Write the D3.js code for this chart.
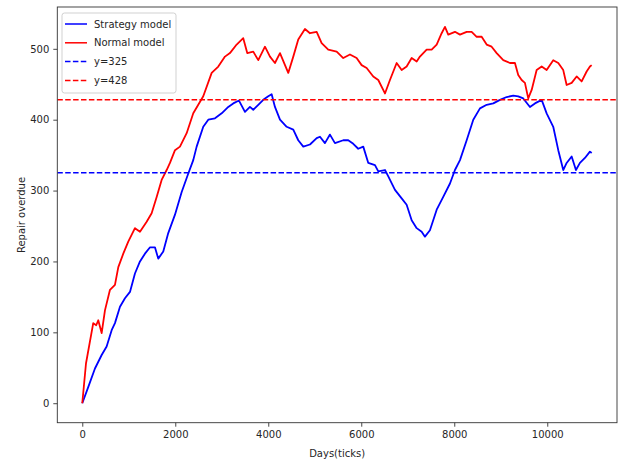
<!DOCTYPE html>
<html>
<head>
<meta charset="utf-8">
<script src="https://cdn.jsdelivr.net/npm/d3@7"></script>
<style>
  body { margin: 0; background: #fff; }
  svg text { font-family: "DejaVu Sans", sans-serif; fill: #262626; }
</style>
</head>
<body>
<svg id="chart" width="618" height="460"></svg>
<script>
// data (days, repair overdue)
var strategyDays = [0,130,273,417,524,632,703,811,918,1026,1133,1241,1348,1458,1563,1634,1742,1849,1994,2138,2280,2387,2460,2602,2710,2854,2998,3140,3247,3370,3499,3606,3677,3785,3892,4000,4073,4144,4252,4396,4538,4645,4753,4897,5041,5112,5219,5327,5434,5613,5720,5828,5935,6043,6151,6295,6366,6510,6581,6725,6869,6976,7084,7192,7299,7370,7477,7622,7763,7908,8015,8123,8267,8409,8553,8697,8839,8983,9127,9269,9376,9484,9628,9735,9880,9987,10129,10237,10344,10417,10525,10617,10703,10810,10918,10955];
var strategyValues = [0,23,49,68,80,103,113,136,148,157,183,200,211,220,220,204,214,240,266,298,324,343,362,390,400,402,409,418,423,427,411,418,414,421,428,433,436,418,400,390,386,371,362,365,374,376,367,379,367,371,371,366,359,362,339,336,327,329,320,301,289,280,258,247,242,235,244,273,291,310,329,343,371,400,416,421,423,428,432,434,433,430,418,423,428,409,390,357,329,339,348,329,339,346,355,353];

var normalDays = [0,80,236,300,344,417,488,596,703,775,882,989,1133,1241,1385,1492,1600,1707,1815,1886,1994,2101,2245,2387,2602,2783,2925,3069,3176,3320,3462,3548,3677,3785,3929,4037,4144,4252,4430,4538,4645,4789,4897,5041,5148,5290,5471,5613,5757,5900,6008,6116,6258,6366,6510,6617,6761,6869,6976,7084,7192,7262,7406,7514,7622,7729,7800,7871,8015,8123,8267,8374,8482,8589,8697,8804,8912,9054,9198,9305,9376,9449,9520,9591,9665,9772,9880,9987,10129,10237,10344,10417,10525,10632,10740,10847,10918,10955];
var normalValues = [0,56,113,110,117,99,131,160,167,192,211,228,247,242,256,268,291,315,329,339,357,362,381,409,433,466,475,489,494,506,515,494,496,484,503,489,480,494,466,489,513,528,522,524,508,499,496,487,492,487,477,473,461,456,437,456,480,470,475,487,482,489,499,499,506,522,531,520,524,520,524,524,517,517,506,503,494,484,480,480,463,456,452,430,442,470,475,470,484,480,470,449,452,461,454,468,475,477];

var seriesNames = ["Strategy model", "Normal model"];
var seriesColors = ["blue", "red"];
var refValues = [325, 428];
var refNames = ["y=325", "y=428"];
var refColors = ["blue", "red"];

var xTicks = [0, 2000, 4000, 6000, 8000, 10000];
var yTicks = [0, 100, 200, 300, 400, 500];

//###############################################

var margin = {top: 7, right: 1, bottom: 37.3, left: 57.3},
    width = 618 - margin.left - margin.right,
    height = 460 - margin.top - margin.bottom;

var fontSize = "10px";

var svg = d3.select("#chart")
  .append("g")
  .attr("transform", "translate(" + margin.left + "," + margin.top + ")");

var x = d3.scaleLinear().domain([-537, 11500]).range([0, width]);
var y = d3.scaleLinear().domain([-27.5, 559]).range([height, 0]);

svg.append("clipPath").attr("id", "clip")
  .append("rect").attr("width", width).attr("height", height);

// x axis
var xAxis = svg.append("g")
  .attr("transform", "translate(0," + height + ")")
  .call(d3.axisBottom(x).tickValues(xTicks).tickSize(4).tickPadding(4).tickFormat(d3.format("d")));
// y axis
var yAxis = svg.append("g")
  .call(d3.axisLeft(y).tickValues(yTicks).tickSize(4).tickPadding(4));

[xAxis, yAxis].forEach(function (a) {
  a.select(".domain").remove();
  a.selectAll("line").attr("stroke", "#333").attr("stroke-width", 0.9);
  a.selectAll("text").style("font-size", fontSize).attr("fill", "#262626");
});

// lines
var line = d3.line()
  .x(function (d) { return x(d[0]); })
  .y(function (d) { return y(d[1]); });

var series = [
  d3.zip(strategyDays, strategyValues),
  d3.zip(normalDays, normalValues)
];

var plot = svg.append("g").attr("clip-path", "url(#clip)");

series.forEach(function (s, i) {
  plot.append("path")
    .datum(s)
    .attr("d", line)
    .attr("fill", "none")
    .attr("stroke", seriesColors[i])
    .attr("stroke-width", 1.8)
    .attr("stroke-linejoin", "round");
});

// reference lines (axhline)
refValues.forEach(function (v, i) {
  plot.append("line")
    .attr("x1", 0).attr("x2", width)
    .attr("y1", y(v)).attr("y2", y(v))
    .attr("stroke", refColors[i])
    .attr("stroke-width", 1.5)
    .attr("stroke-dasharray", "5.5,2.4");
});

// frame
svg.append("rect")
  .attr("width", width).attr("height", height)
  .attr("fill", "none").attr("stroke", "#333").attr("stroke-width", 0.9);

// axis labels
svg.append("text")
  .attr("x", width / 2).attr("y", height + 34)
  .attr("text-anchor", "middle")
  .style("font-size", fontSize)
  .text("Days(ticks)");

svg.append("text")
  .attr("transform", "translate(" + (24.5 - margin.left) + "," + (215 - margin.top) + ") rotate(-90)")
  .attr("text-anchor", "middle")
  .style("font-size", fontSize)
  .text("Repair overdue");

// legend
var legend = svg.append("g").attr("transform", "translate(" + (62 - margin.left) + "," + (13 - margin.top) + ")");
legend.append("rect")
  .attr("width", 114).attr("height", 80)
  .attr("rx", 2.5)
  .attr("fill", "#fff").attr("fill-opacity", 0.8)
  .attr("stroke", "#ccc").attr("stroke-width", 0.9);

var legendItems = [
  {name: seriesNames[0], color: seriesColors[0], dash: null},
  {name: seriesNames[1], color: seriesColors[1], dash: null},
  {name: refNames[0], color: refColors[0], dash: "5.5,2.4"},
  {name: refNames[1], color: refColors[1], dash: "5.5,2.4"}
];

var item = legend.selectAll(".item")
  .data(legendItems)
  .enter().append("g")
  .attr("class", "item")
  .attr("transform", function (d, i) { return "translate(0," + (11 + i * 18.8) + ")"; });

item.append("line")
  .attr("x1", 3).attr("x2", 25)
  .attr("stroke", function (d) { return d.color; })
  .attr("stroke-width", 1.5)
  .attr("stroke-dasharray", function (d) { return d.dash; });

item.append("text")
  .attr("x", 32).attr("dy", "0.35em")
  .style("font-size", fontSize)
  .text(function (d) { return d.name; });
</script>
</body>
</html>
